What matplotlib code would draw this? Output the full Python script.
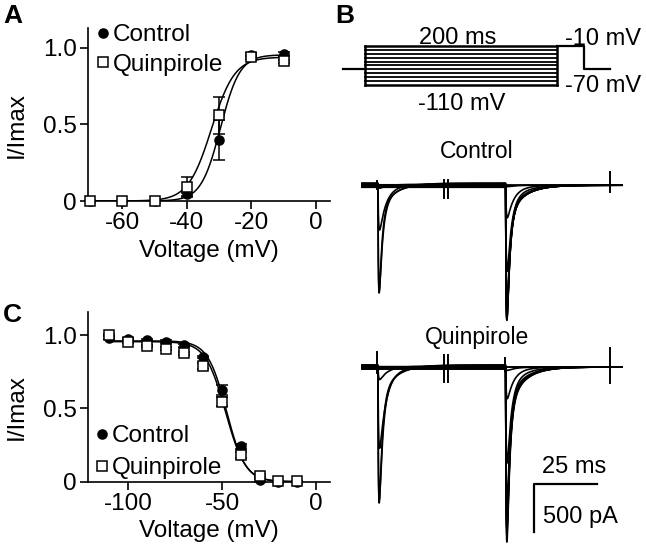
import numpy as np
import matplotlib
matplotlib.use('Agg')
import matplotlib.pyplot as plt

plt.rcParams['font.family'] = ['Liberation Sans', 'DejaVu Sans']
plt.rcParams['font.size'] = 17.5
plt.rcParams['axes.unicode_minus'] = False

# ---- Panel A: activation ----
act_v = [-70, -60, -50, -40, -30, -20, -10]
act_ctrl = [0.0, 0.0, 0.0, 0.044, 0.40, 0.955, 0.96]
act_ctrl_err = [0, 0, 0, 0.01, 0.13, 0.01, 0.01]
act_quin = [0.0, 0.0, 0.0, 0.094, 0.56, 0.94, 0.913]
act_quin_err = [0, 0, 0, 0.065, 0.12, 0.01, 0.01]
act_fit_ctrl = (0.955, -29.6, 3.0)   # amplitude, V1/2, slope
act_fit_quin = (0.94, -32.4, 3.6)

# ---- Panel C: steady-state inactivation ----
inact_v = [-110, -100, -90, -80, -70, -60, -50, -40, -30, -20, -10]
inact_ctrl = [0.98, 0.97, 0.966, 0.955, 0.93, 0.85, 0.625, 0.24, 0.01, 0.0, 0.0]
inact_ctrl_err = [0.01, 0.01, 0.01, 0.01, 0.01, 0.01, 0.035, 0.02, 0.01, 0, 0]
inact_quin = [1.0, 0.955, 0.925, 0.905, 0.875, 0.79, 0.545, 0.18, 0.04, 0.005, 0.005]
inact_quin_err = [0.01, 0.01, 0.01, 0.01, 0.01, 0.02, 0.03, 0.02, 0.01, 0, 0]
inact_fit_ctrl = (0.96, -47.6, 5.0)
inact_fit_quin = (0.955, -48.2, 5.3)

# ---- Panel B: protocol (ms, mV) ----
proto_t = [0, 23, 223, 251, 278]       # hold | prepulse | test | back
hold_mv = -70
test_mv = -10
prepulse_mv = inact_v

# ---- Panel B: currents, one trace per prepulse (pA, ms) ----
spike_t0 = [6.3, 57.0]
ctrl_peak1 = [0, 0, 0, 0, 0, 0, 0, 40, 480, 1120, 1146]
ctrl_tau1 = [1, 1, 1, 1, 1, 1, 1, 3.0, 2.4, 1.3, 1.1]
ctrl_peak2 = [1410, 1400, 1395, 1380, 1340, 1230, 900, 340, 15, 0, 0]
ctrl_tau2 = [1.1, 1.1, 1.1, 1.1, 1.1, 1.2, 1.6, 2.4, 3.0, 1, 1]
quin_peak1 = [0, 0, 0, 0, 0, 0, 0, 140, 860, 1400, 1438]
quin_tau1 = [1, 1, 1, 1, 1, 1, 1, 3.0, 2.4, 1.4, 1.2]
quin_peak2 = [1823, 1750, 1690, 1660, 1600, 1440, 1000, 330, 35, 0, 0]
quin_tau2 = [1.1, 1.1, 1.1, 1.1, 1.1, 1.2, 1.6, 2.4, 3.0, 1, 1]
prepulse_leak = [-22, -18, -13, -9, -4, 0, 4, 9, 13, 18, 22]   # offset during prepulse only
break_t = [32.6, 34.2]
end_artifact_t = 98.4
ctrl_artifact = [(6.0, 40, -40), (break_t[0], 55, -135), (break_t[1], 55, -135), (end_artifact_t, 135, -70)]
quin_artifact = [(6.0, 156, -60), (56.8, 94, -40), (break_t[0], 125, -156), (break_t[1], 125, -156),
                 (end_artifact_t, 200, -170)]
scale_ms = 25
scale_pa = 500
scale_corner = (68.3, -1219)

W, H = 646, 553
fig = plt.figure(figsize=(W / 100, H / 100), dpi=100)


def px_axes(x0, y0, x1, y1):
    return fig.add_axes([x0 / W, 1 - y1 / H, (x1 - x0) / W, (y1 - y0) / H])


def boltz_act(v, a, vh, k):
    return a / (1 + np.exp((vh - v) / k))


def boltz_inact(v, a, vh, k):
    return a / (1 + np.exp((v - vh) / k))


def style_iv(ax):
    for s in ('top', 'right'):
        ax.spines[s].set_visible(False)
    for s in ('left', 'bottom'):
        ax.spines[s].set_linewidth(1.2)
    ax.tick_params(direction='out', length=6, width=1.2, pad=2, labelsize=17.5)
    ax.set_yticks([0, 0.5, 1.0])
    ax.set_yticklabels(['0', '0.5', '1.0'])
    ax.set_ylabel('I/Imax')
    ax.set_xlabel('Voltage (mV)', labelpad=4)
    ax.yaxis.set_label_coords(-0.25, 0.44)


def plot_points(ax, x, y, err, marker, face, ms):
    cont = ax.errorbar(x, y, yerr=err, fmt=marker, mfc=face, mec='black', mew=1.1, ms=ms,
                       ecolor='black', elinewidth=1.1, capsize=4, capthick=1.1, zorder=3)
    for art in cont.lines[0:1] + tuple(cont.lines[1]) + tuple(cont.lines[2]):
        art.set_clip_on(False)
    return cont


# Panel A
axA = px_axes(88, 28, 330, 201)
vv = np.linspace(-70, -10, 300)
axA.plot(vv, boltz_act(vv, *act_fit_ctrl), color='black', lw=1.1, zorder=2)
axA.plot(vv, boltz_act(vv, *act_fit_quin), color='black', lw=1.1, zorder=2)
hc = plot_points(axA, act_v, act_ctrl, act_ctrl_err, 'o', 'black', 6.5)
hq = plot_points(axA, act_v, act_quin, act_quin_err, 's', 'white', 7)
axA.set_xlim(-70.6, 4.3)
axA.set_ylim(0, 1.13)
axA.set_xticks([-60, -40, -20, 0])
style_iv(axA)
axA.legend([hc[0], hq[0]], ['Control', 'Quinpirole'], loc='upper left',
           bbox_to_anchor=(97 / W, 1 - 24 / H), bbox_transform=fig.transFigure,
           frameon=False, borderpad=0, borderaxespad=0, handlelength=0.5,
           handletextpad=0.15, labelspacing=0.32, fontsize=17.5)

# Panel C
axC = px_axes(88, 311.7, 330, 481.7)
vv = np.linspace(-110, -10, 300)
axC.plot(vv, boltz_inact(vv, *inact_fit_ctrl), color='black', lw=1.1, zorder=2)
axC.plot(vv, boltz_inact(vv, *inact_fit_quin), color='black', lw=1.1, zorder=2)
hc = plot_points(axC, inact_v, inact_ctrl, inact_ctrl_err, 'o', 'black', 6.5)
hq = plot_points(axC, inact_v, inact_quin, inact_quin_err, 's', 'white', 7)
axC.set_xlim(-121.3, 7.4)
axC.set_ylim(0, 1.159)
axC.set_xticks([-100, -50, 0])
style_iv(axC)
axC.legend([hc[0], hq[0]], ['Control', 'Quinpirole'], loc='upper left',
           bbox_to_anchor=(96 / W, 1 - 425 / H), bbox_transform=fig.transFigure,
           frameon=False, borderpad=0, borderaxespad=0, handlelength=0.5,
           handletextpad=0.15, labelspacing=0.42, fontsize=17.5)

# Panel B protocol
axP = px_axes(343, 46, 610, 85)
axP.set_xlim(proto_t[0], proto_t[-1])
axP.set_ylim(min(prepulse_mv), max(prepulse_mv))
axP.axis('off')
kw = dict(color='black', clip_on=False, solid_capstyle='projecting')
axP.plot(proto_t[0:2], [hold_mv, hold_mv], lw=1.6, **kw)
for lvl in prepulse_mv:
    lw = 1.8 if lvl in (min(prepulse_mv), max(prepulse_mv)) else 1.3
    axP.plot(proto_t[1:3], [lvl, lvl], lw=lw, **kw)
for tt in proto_t[1:3]:
    axP.plot([tt, tt], [min(prepulse_mv), max(prepulse_mv)], lw=1.8, **kw)
axP.plot([proto_t[2], proto_t[3], proto_t[3], proto_t[4]],
         [test_mv, test_mv, hold_mv, hold_mv], lw=1.6, **kw)
axP.text(119.8, -4.9, '200 ms', ha='center', va='baseline', fontsize=17)
axP.text(124, -174, '-110 mV', ha='center', va='baseline', fontsize=17)
axP.text(231, -7.4, '-10 mV', ha='left', va='baseline', fontsize=17)
axP.text(231, -128, '-70 mV', ha='left', va='baseline', fontsize=17)

# Panel B traces
t = np.linspace(0, 103.2, 4000)


def spike(t0, amp, tau):
    s = np.clip(t - t0, 0, None)
    shape = (1 - np.exp(-s / 0.3)) * (0.85 * np.exp(-s / tau) + 0.15 * np.exp(-s / 6.0))
    if shape.max() == 0:
        return shape
    return -amp * shape / shape.max()


def draw_traces(ax, peak1, tau1, peak2, tau2, artifacts, label, label_y):
    ax.set_xlim(0, 103.2)
    ax.axis('off')
    for k in range(len(peak1)):
        leak = np.where(t < spike_t0[1], prepulse_leak[k], 0.0)
        cur = leak + spike(spike_t0[0], peak1[k], tau1[k]) + spike(spike_t0[1], peak2[k], tau2[k])
        ax.plot(t, cur, color='black', lw=1.2, clip_on=False)
    for at, up, dn in artifacts:
        ax.plot([at, at], [dn, up], color='black', lw=1.4, clip_on=False)
    ax.text(45.6, label_y, label, ha='center', va='baseline', fontsize=16.5)


axT1 = px_axes(362, 166, 622, 329)
axT1.set_ylim(-1500, 200)
draw_traces(axT1, ctrl_peak1, ctrl_tau1, ctrl_peak2, ctrl_tau2, ctrl_artifact, 'Control', 281)

axT2 = px_axes(362, 347.8, 622, 549.4)
axT2.set_ylim(-1900, 200)
draw_traces(axT2, quin_peak1, quin_tau1, quin_peak2, quin_tau2, quin_artifact, 'Quinpirole', 240)

cx, cy = scale_corner
axT2.plot([cx + scale_ms, cx, cx], [cy, cy, cy - scale_pa], color='black', lw=1.6, clip_on=False)
axT2.text(71.3, -1104, '25 ms', ha='left', va='baseline', fontsize=17)
axT2.text(71.8, -1622, '500 pA', ha='left', va='baseline', fontsize=17)

# panel letters
fig.text(3 / W, 1 - 23 / H, 'A', fontsize=19, fontweight='bold', va='baseline')
fig.text(335 / W, 1 - 23 / H, 'B', fontsize=19, fontweight='bold', va='baseline')
fig.text(3 / W, 1 - 322 / H, 'C', fontsize=19, fontweight='bold', va='baseline')

fig.savefig('out.png', dpi=100)
